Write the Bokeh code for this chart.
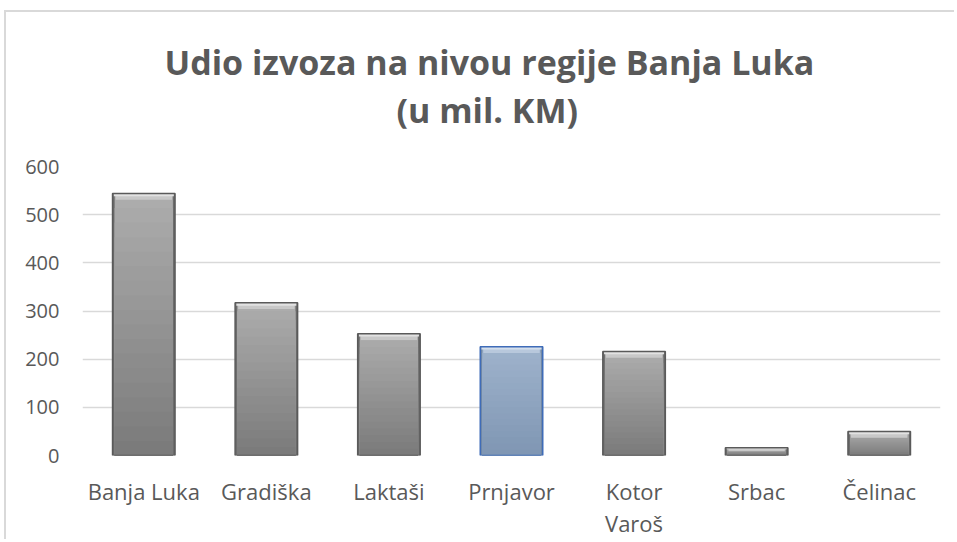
from bokeh.plotting import figure
from bokeh.models import Range1d, FixedTicker, Title, ColumnDataSource, LinearAxis
from bokeh.embed import file_html
from bokeh.resources import INLINE

# ---- data ----
categories = ["Banja Luka", "Gradiška", "Laktaši", "Prnjavor", "Kotor Varoš", "Srbac", "Čelinac"]
values = [544, 317, 253, 226, 216, 16, 50]
y_ticks = [0, 100, 200, 300, 400, 500, 600]
title_lines = ["Udio izvoza na nivou regije Banja Luka", "(u mil. KM)"]
label_line1 = ["Banja Luka", "Gradiška", "Laktaši", "Prnjavor", "Kotor", "Srbac", "Čelinac"]
label_line2 = ["", "", "", "", "Varoš", "", ""]
highlight = "Prnjavor"

TEXT = "#595959"
FONT = "Open Sans"

def hex2rgb(h):
    h = h.lstrip("#")
    return tuple(int(h[i:i + 2], 16) for i in (0, 2, 4))

def lerp(c1, c2, t):
    a, b = hex2rgb(c1), hex2rgb(c2)
    return "#%02x%02x%02x" % tuple(int(round(a[i] + (b[i] - a[i]) * t)) for i in range(3))

styles = {
    "grey": dict(edge="#6c6c6c", bottom="#7a7a7a", top="#adadad", bevel="#c8c8c8", bevel_hi="#e2e2e2", line="#5a5a5a"),
    "blue": dict(edge="#6f87a6", bottom="#7f96b3", top="#9fb3cc", bevel="#b8c8dc", bevel_hi="#d4dfec", line="#3f6cb8"),
}

xpos = list(range(len(categories)))
kind = ["blue" if c == highlight else "grey" for c in categories]

p = figure(
    x_range=Range1d(-0.5, len(categories) - 0.5),
    y_range=Range1d(0, 600),
    width=950, height=529,
    output_backend="svg", toolbar_location=None,
    min_border_left=76, min_border_right=16, min_border_top=154, min_border_bottom=86,
)
p.outline_line_color = None
p.background_fill_color = "white"
p.border_fill_color = "white"
p.styles = {"margin-top": "10px", "margin-left": "4px",
            "border-top": "2px solid #d9d9d9", "border-left": "2px solid #d9d9d9"}

# darker edge base
p.vbar(x=xpos, top=values, width=0.51, fill_color=[styles[k]["edge"] for k in kind], line_color=None)

# gradient body: overlapping bars from full height down (no seams)
n = 18
sx, st, sc = [], [], []
for i in range(n):
    frac = (n - i) / n
    for xp, v, k in zip(xpos, values, kind):
        s = styles[k]
        sx.append(xp)
        st.append(v * frac)
        sc.append(lerp(s["bottom"], s["top"], frac - 0.5 / n))
p.vbar(x="x", bottom=0, top="t", width=0.475, fill_color="c", line_color=None,
       source=ColumnDataSource(dict(x=sx, t=st, c=sc)))

# top bevel
bx, bb, bt, bc, bw = [], [], [], [], []
for xp, v, k in zip(xpos, values, kind):
    s = styles[k]
    h = min(13.0, v * 0.45)
    bx += [xp, xp]
    bb += [v - h, v - h * 0.45]
    bt += [v, v]
    bc += [s["bevel"], s["bevel_hi"]]
    bw += [0.46, 0.49]
p.vbar(x="x", bottom="b", top="t", width="w", fill_color="c", line_color=None,
       source=ColumnDataSource(dict(x=bx, b=bb, t=bt, c=bc, w=bw)))

# outline
p.vbar(x=xpos, top=values, width=0.51, fill_color=None,
       line_color=[styles[k]["line"] for k in kind], line_width=1.5)

# axes
p.yaxis.ticker = FixedTicker(ticks=y_ticks)
p.ygrid.ticker = FixedTicker(ticks=y_ticks)
p.xgrid.grid_line_color = None
p.ygrid.grid_line_color = "#d9d9d9"
p.ygrid.grid_line_width = 1.5

xaxis1 = p.xaxis[0]
xaxis2 = LinearAxis()
p.add_layout(xaxis2, "below")

for ax in (xaxis1, p.yaxis[0], xaxis2):
    ax.axis_line_color = None
    ax.major_tick_line_color = None
    ax.minor_tick_line_color = None
    ax.major_label_text_color = TEXT
    ax.major_label_text_font = FONT
    ax.major_label_text_font_size = "22px"
p.yaxis.major_label_text_font_size = "20px"
p.yaxis.major_label_standoff = 17
xaxis1.ticker = FixedTicker(ticks=xpos)
xaxis1.major_label_overrides = {i: t for i, t in zip(xpos, label_line1)}
xaxis1.major_label_standoff = 14
xaxis2.ticker = FixedTicker(ticks=xpos)
xaxis2.major_label_overrides = {i: (t if t else " ") for i, t in zip(xpos, label_line2)}
xaxis2.major_label_standoff = -7

# title lines
def title_style(t):
    t.align = "left"
    t.text_font = FONT
    t.text_font_size = "34px"
    t.text_font_style = "bold"
    t.text_color = TEXT
    t.standoff = 0

p.title.text = title_lines[0]
title_style(p.title)
p.title.offset = 82
spacer = Title(text=" ")
title_style(spacer)
spacer.text_font_size = "23px"
p.add_layout(spacer, "above")
t2 = Title(text=title_lines[1])
title_style(t2)
t2.offset = 314
p.add_layout(t2, "above")

open("out.html", "w").write(file_html(p, INLINE))
